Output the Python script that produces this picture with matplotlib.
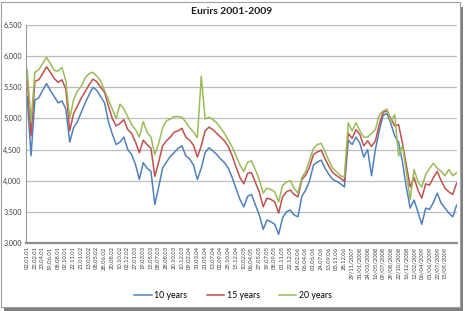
import matplotlib.pyplot as plt
from matplotlib.patches import Rectangle
import numpy as np

plt.rcParams["font.family"] = ["Lato", "DejaVu Sans"]

rate_10y = [5350, 4400, 5300, 5330, 5450, 5560, 5450, 5350, 5250, 5280,
            5150, 4620, 4850, 4950, 5100, 5250, 5380, 5500, 5450, 5350,
            5250, 4950, 4750, 4580, 4620, 4700, 4500, 4420, 4260, 4020,
            4290, 4200, 4150, 3620, 3900, 4200, 4300, 4390, 4450, 4520,
            4560, 4400, 4350, 4250, 4020, 4200, 4450, 4530, 4480, 4420,
            4350, 4290, 4200, 4050, 3870, 3700, 3580, 3750, 3780, 3610,
            3450, 3220, 3370, 3340, 3300, 3140, 3400, 3500, 3530, 3450,
            3420, 3750, 3850, 4000, 4250, 4300, 4330, 4200, 4100, 4020,
            3990, 3950, 3900, 4650, 4580, 4700, 4600, 4380, 4500, 4080,
            4500, 4800, 5050, 5080, 4920, 4720, 4620, 4300, 3900, 3560,
            3690, 3500, 3300, 3560, 3540, 3650, 3800, 3640, 3560, 3480,
            3420, 3610]
rate_15y = [5630, 4720, 5600, 5620, 5720, 5830, 5740, 5640, 5580, 5620,
            5470, 4800, 5080, 5200, 5330, 5430, 5540, 5630, 5590, 5500,
            5420, 5200, 5000, 4880, 4920, 4980, 4820, 4760, 4620, 4450,
            4650, 4580, 4520, 4070, 4300, 4560, 4640, 4700, 4780, 4800,
            4840, 4700, 4650, 4570, 4380, 4560, 4800, 4860, 4820, 4760,
            4700, 4640, 4550, 4400, 4220, 4050, 3950, 4120, 4130, 3970,
            3820, 3580, 3720, 3700, 3660, 3480, 3740, 3820, 3850, 3780,
            3740, 4020, 4090, 4220, 4420, 4460, 4490, 4350, 4230, 4130,
            4080, 4040, 3990, 4760, 4680, 4820, 4740, 4560, 4640, 4550,
            4640, 4900, 5100, 5120, 5000, 4880, 4900, 4600, 4250, 3900,
            4050, 3850, 3720, 3950, 3930, 4050, 4150, 4000, 3880, 3820,
            3780, 3960]
rate_20y = [5790, 4950, 5740, 5780, 5880, 5980, 5880, 5770, 5760, 5820,
            5600, 5000, 5300, 5440, 5520, 5650, 5720, 5740, 5680, 5600,
            5450, 5300, 5150, 5000, 5230, 5150, 5030, 4900, 4820, 4700,
            4950, 4780, 4700, 4420, 4600, 4850, 4960, 4990, 5030, 5030,
            5020, 4940, 4850, 4780, 4690, 5680, 4990, 5020, 4980, 4930,
            4850, 4760, 4650, 4540, 4400, 4250, 4150, 4300, 4320, 4170,
            4020, 3800, 3880, 3860, 3820, 3660, 3920, 3980, 4000, 3880,
            3800, 4050, 4150, 4330, 4520, 4580, 4600, 4460, 4320, 4200,
            4140, 4080, 4060, 4930, 4800, 4930, 4800, 4700, 4700, 4760,
            4820, 5050, 5120, 5150, 4950, 5060, 4400, 4560, 4150, 3700,
            4180, 3980, 3900, 4100, 4200, 4280, 4200, 4150, 4080, 4180,
            4080, 4130]

date_labels = [
    "02.01.01", "22.02.01", "23.04.01", "19.06.01", "08.08.01", "02.10.01",
    "22.11.01", "21.01.02", "13.03.02", "08.05.02", "28.06.02", "20.08.02",
    "10.10.02", "02.12.02", "27.01.03", "19.03.03", "15.05.03", "08.07.03",
    "28.08.03", "20.10.03", "10.12.03", "09.02.04", "31.03.04", "21.05.04",
    "13.07.04", "02.09.04", "25.10.04", "15.12.04", "10.02.05", "06.04.05",
    "27.05.05", "19.07.05", "08.09.05", "01.11.05", "22.12.05", "14.02.06",
    "06.04.06", "01.06.06", "24.07.06", "13.09.06", "03.11.06", "28.12.06",
    "29/11/2007", "31/01/2008", "24/03/2008", "16/05/2008", "09/07/2008",
    "29/08/2008", "22/10/2008", "16/12/2008", "12/02/2009", "06/04/2009",
    "01/06/2009", "22/07/2009", "15/09/2009",
]
series_names = ["10 years", "15 years", "20 years"]
colors = ["#4F81BD", "#C0504D", "#9BBB59"]

W, H = 465, 311
fig = plt.figure(figsize=(W / 100, H / 100), dpi=100)

# frame with a drop shadow, like the pasted Excel chart
fig.patches.append(Rectangle((4 / W, 0 / H), 459 / W, 304 / H, transform=fig.transFigure,
                             facecolor="#7f7f7f", edgecolor="none", zorder=-2))
fig.patches.append(Rectangle((1 / W, 4 / H), 459 / W, 305 / H, transform=fig.transFigure,
                             facecolor="white", edgecolor="#a0a0a0", linewidth=0.8, zorder=-1))

ax = fig.add_axes([26 / W, 1 - 243 / H, (457 - 26) / W, (243 - 25) / H])
x = np.arange(len(rate_10y))
for vals, name, c in zip([rate_10y, rate_15y, rate_20y], series_names, colors):
    ax.plot(x, vals, color=c, linewidth=1.1, label=name)

ax.set_ylim(3000, 6500)
ax.set_yticks(np.arange(3000, 6501, 500))
ax.yaxis.set_major_formatter(plt.FuncFormatter(lambda v, p: f"{int(v):,}"))
ax.set_xlim(-0.3, 111.1)
ax.set_xticks(np.arange(0, 2 * len(date_labels), 2))
ax.set_xticklabels(date_labels, rotation=90, fontsize=4.2, color="#404040")
ax.tick_params(axis="y", labelsize=5.2, colors="#404040", length=0, pad=3)
ax.tick_params(axis="x", length=0, pad=2.5)

ax.grid(axis="y", color="#bdbdbd", linewidth=0.9)
ax.set_axisbelow(True)
for side in ["top", "right"]:
    ax.spines[side].set_visible(False)
ax.spines["left"].set_color("#9a9a9a")
ax.spines["left"].set_linewidth(0.8)
ax.spines["bottom"].set_color("#8c8c8c")
ax.spines["bottom"].set_linewidth(1.6)

fig.text(232 / W, 1 - 12 / H, "Eurirs 2001-2009", ha="center", va="center",
         fontsize=7.5, fontweight="bold", color="#1a1a1a")

fig.legend(loc="center", bbox_to_anchor=(233 / W, 1 - 296 / H), ncol=3, frameon=False,
           fontsize=6.3, handlelength=2.0, columnspacing=2.2, handletextpad=0.3)

fig.savefig("out.png", dpi=100)
